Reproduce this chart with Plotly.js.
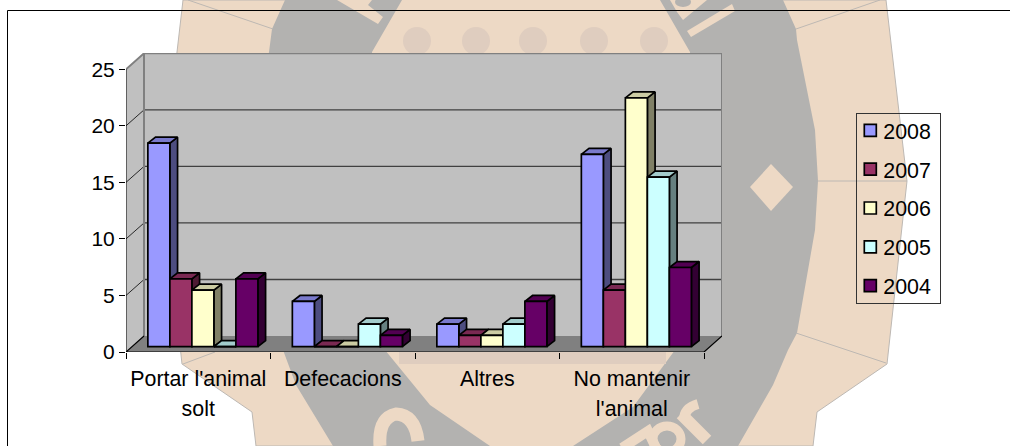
<!DOCTYPE html>
<html>
<head>
<meta charset="utf-8">
<script src="https://cdn.plot.ly/plotly-3.0.1.min.js"></script>
<style>
html,body{margin:0;padding:0;background:#fff;width:1010px;height:446px;overflow:hidden}
#bg,#plot{position:absolute;left:0;top:0;width:1010px;height:446px}
</style>
</head>
<body>
<svg id="bg" width="1010" height="446" viewBox="0 0 1010 446">
  <polygon points="183,0 177,52 162,181 182,364 252,412 256,446 813,446 817,412 887,364 907,181 886,0" fill="#EDD9C5" stroke="#BDB8B3" stroke-width="1"/>
  <polygon points="285,0 272,29 269,52 254,130 251,181 254,230 272,333 283,350 296,385 333,446 738,446 773,385 788,350 797,333 815,230 818,181 815,130 797,40 796,29 783,0" fill="#B3B2B0"/>
  <polygon points="402,0 372,52 372,350 385,350 430,405 490,446 573,446 633,407 675,350 690,350 690,52 660,0" fill="#EDD9C5"/>
  <polygon points="337,0 378,24 383,17 368,5 372,0" fill="#EDD9C5"/>
  <polygon points="732,4 735,11 691,37 687,31" fill="#EDD9C5"/>
  <polygon points="670,0 677,12 683,20 707,0" fill="#EDD9C5"/>
  <ellipse cx="683" cy="2" rx="8" ry="5" fill="#B3B2B0"/>
  <polygon points="771,164 793,187 771,211 750,187" fill="#EDD9C5"/>
  <g fill="#DFCDBF">
    <ellipse cx="417" cy="41" rx="14" ry="14"/><ellipse cx="476" cy="41" rx="14" ry="14"/><ellipse cx="533" cy="41" rx="14" ry="14"/><ellipse cx="594" cy="41" rx="14" ry="14"/><ellipse cx="654" cy="41" rx="14" ry="14"/>
    <rect x="399" y="352" width="267" height="12"/>
  </g>
  <path d="M418 441 Q415 415 396 414 Q378 418 380 446" fill="none" stroke="#EDD9C5" stroke-width="13"/>
  <g stroke="#EDD9C5" fill="none">
    <path d="M622 448 L648 431 L656 448" stroke-width="10"/>
    <ellipse cx="667" cy="439" rx="14" ry="13" stroke-width="9"/>
    <path d="M681 414 L707 440" stroke-width="12"/>
    <path d="M684 420 Q684 408 698 404" stroke-width="10"/>
  </g>
  <g stroke="#BDB8B3" stroke-width="1" fill="none">
    <path d="M188 0L273 29M796 29L880 0M818 181L907 181M796 333L886 363M183 364L215 352"/>
  </g>
  <path d="M7.5 446V10.5H1010" fill="none" stroke="#000" stroke-width="1"/>
</svg>
<div id="plot"></div>
<script>
var categories = ["Portar l'animal<br>solt", "Defecacions", "Altres", "No mantenir<br>l'animal"];
var years = ["2008", "2007", "2006", "2005", "2004"];
var values2008 = [18, 4, 2, 17];
var values2007 = [6, 0, 1, 5];
var values2006 = [5, 0, 1, 22];
var values2005 = [0, 2, 2, 15];
var values2004 = [6, 1, 4, 7];
var seriesValues = [values2008, values2007, values2006, values2005, values2004];
var frontColors = ["#9999FF", "#993366", "#FFFFCC", "#CCFFFF", "#660066"];
var sideColors = ["#4D4D80", "#4D1A33", "#808066", "#668080", "#330033"];
var topColors = ["#7A7ACC", "#7A2952", "#CCCCA3", "#A3CCCC", "#520052"];

var yTop = 25, wallDx = 0.1246, wallDy = 1.41;
var barW = 0.1523, barBase = 0.47, barShift = 0.532, barDx = 0.0533, barDy = 0.53;
var font = "Liberation Sans, Arial, sans-serif";
var traces = [];

function poly(xs, ys, fill, color, width, z) {
  return {type:"scatter", mode:"lines", x:xs, y:ys, fill:fill ? "toself" : "none", fillcolor:fill || undefined,
    line:{color:color, width:width}, hoverinfo:"skip", showlegend:false, cliponaxis:false, zorder:z};
}
var catN = categories.length;
traces.push(poly([0,wallDx,wallDx,0,0],[0,wallDy,yTop+wallDy,yTop,0],"#C0C0C0","rgba(0,0,0,0)",0,0));
traces.push(poly([wallDx,catN+wallDx,catN+wallDx,wallDx,wallDx],[wallDy,wallDy,yTop+wallDy,yTop+wallDy,wallDy],"#C0C0C0","rgba(0,0,0,0)",0,0));
traces.push(poly([0,catN,catN+wallDx,wallDx,0],[0,0,wallDy,wallDy,0],"#808080","rgba(0,0,0,0)",0,0));
var gridV = [5,10,15,20], gx=[], gy=[], dx=[], dy=[];
gridV.forEach(function(v){
  gx.push(wallDx,catN+wallDx,null); gy.push(v+wallDy,v+wallDy,null);
  dx.push(0,wallDx,null); dy.push(v,v+wallDy,null);
});
traces.push(poly(gx,gy,null,"#404040",1.3,0));
traces.push(poly(dx,dy,null,"#000000",0.8,0));
traces.push(poly([0,wallDx,catN+wallDx,catN+wallDx],[yTop,yTop+wallDy,yTop+wallDy,wallDy],null,"#808080",2,0));
traces.push(poly([wallDx,wallDx],[wallDy,yTop+wallDy],null,"#808080",2,0));
traces.push(poly([0,0],[0,yTop],null,"#000000",1,0));
traces.push(poly([wallDx,0,catN,catN+wallDx],[wallDy,0,0,wallDy],null,"#000000",1.2,0));

seriesValues.forEach(function(vals, s){
  var xs = vals.map(function(v,i){ return i + barShift + (s-2)*barW; });
  var sx=[], sy=[], tx=[], ty=[];
  vals.forEach(function(v,i){
    var x0 = xs[i]-barW/2, x1 = xs[i]+barW/2, b = barBase, t = barBase+v;
    sx.push(x1,x1+barDx,x1+barDx,x1,x1,null);
    sy.push(b,b+barDy,t+barDy,t,b,null);
    tx.push(x0,x1,x1+barDx,x0+barDx,x0,null);
    ty.push(t,t,t+barDy,t+barDy,t,null);
  });
  traces.push(poly(sx,sy,sideColors[s],"#000000",1.7,2*s+1));
  traces.push(poly(tx,ty,topColors[s],"#000000",1.7,2*s+1));
  traces.push({type:"bar", name:years[s], x:xs, y:vals, base:barBase, width:barW, legendgroup:years[s],
    marker:{color:frontColors[s], line:{color:"#000000", width:1.7}}, zorder:2*s+2, hoverinfo:"y"});
});

var tickLabels = categories.map(function(c){
  return c.split("<br>").map(function(l){ return '<span style="font-size:21.4px">'+l+'</span>'; }).join("<br>");
});
var mL=125.7, mT=52.7, plotR=721.7, plotB=352;
var layout = {
  width:1010, height:446, autosize:false,
  margin:{l:mL, r:1010-plotR, t:mT, b:446-plotB, pad:0},
  paper_bgcolor:"rgba(0,0,0,0)", plot_bgcolor:"rgba(0,0,0,0)",
  barmode:"overlay",
  font:{family:font, color:"#000", size:21},
  xaxis:{range:[0,catN+wallDx], tickmode:"array", tickvals:[0.5,1.5,2.5,3.5], ticktext:tickLabels,
    ticks:"", showgrid:false, zeroline:false, showline:false, tickfont:{family:font,size:23.5,color:"#000"},
    ticklabelstandoff:9,
    minor:{tickmode:"linear", tick0:0, dtick:1, ticks:"outside", ticklen:6, tickcolor:"#000", tickwidth:1, showgrid:false},
    fixedrange:true},
  yaxis:{range:[0,26.44], tickmode:"linear", tick0:0, dtick:5, ticks:"outside", ticklen:6, tickwidth:1, tickcolor:"#000",
    showgrid:false, zeroline:false, showline:false, tickfont:{family:font,size:21,color:"#000"}, fixedrange:true},
  legend:{x:(856-mL)/(plotR-mL), y:(plotB-112.7)/(plotB-mT), xanchor:"left", yanchor:"top",
    bgcolor:"rgba(0,0,0,0)", bordercolor:"#333333", borderwidth:1, font:{family:font,size:21.4,color:"#000"},
    tracegroupgap:8, traceorder:"grouped", indentation:-14, itemclick:false, itemdoubleclick:false},
  showlegend:true
};
Plotly.newPlot("plot", traces, layout, {displayModeBar:false}).then(function(gd){
  gd.querySelectorAll(".legend .legendsymbols").forEach(function(n){ n.setAttribute("transform","translate(7,0)"); });
  var bg = gd.querySelector(".legend .bg");
  bg.setAttribute("width", 84); bg.setAttribute("height", 190);
  var box = gd.querySelector(".legend .scrollbox");
  box.setAttribute("transform", "translate(0,-4)");
});
</script>
</body>
</html>
